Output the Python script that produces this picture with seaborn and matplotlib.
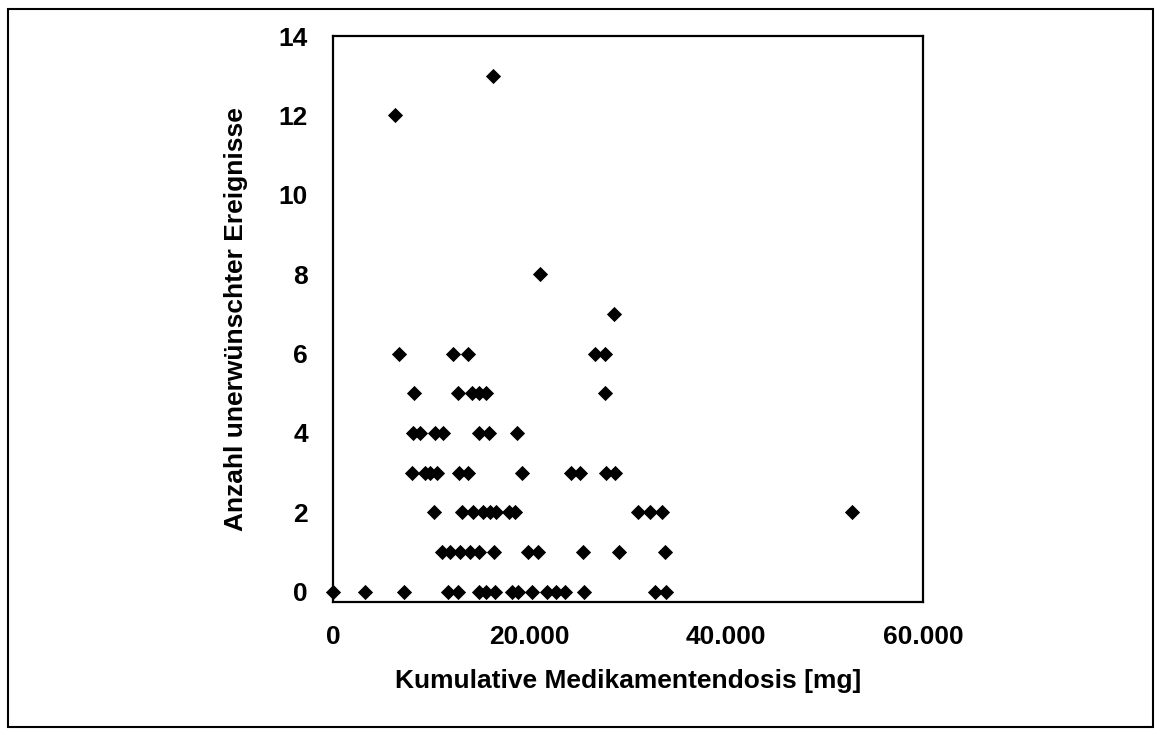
import matplotlib
matplotlib.use("Agg")
import matplotlib.pyplot as plt
import matplotlib.ticker as mticker
from matplotlib.patches import Rectangle
import seaborn as sns
import pandas as pd

# data (dose in mg, number of adverse events)
dose_0 = [0, 3300, 7200, 11700, 12700, 14800, 15600, 16500, 18200, 18800,
          20200, 21800, 22700, 23600, 25500, 32700, 33900]
dose_1 = [11100, 11900, 12900, 13900, 14900, 16400, 19800, 20900, 25400, 29100, 33800]
dose_2 = [10300, 13100, 14200, 15300, 16000, 16600, 17900, 18500, 31000, 32200, 33500, 52800]
dose_3 = [8000, 9350, 9900, 10600, 12800, 13750, 19200, 24200, 25100, 27800, 28660]
dose_4 = [8100, 8900, 10400, 11200, 14800, 15900, 18750]
dose_5 = [8200, 12700, 14100, 14900, 15600, 27700]
dose_6 = [6700, 12200, 13750, 26600, 27700]
dose_7 = [28600]
dose_8 = [21100]
dose_12 = [6300]
dose_13 = [16300]

groups = {0: dose_0, 1: dose_1, 2: dose_2, 3: dose_3, 4: dose_4, 5: dose_5,
          6: dose_6, 7: dose_7, 8: dose_8, 12: dose_12, 13: dose_13}

rows = []
for events, doses in groups.items():
    for d in doses:
        rows.append({"dose": d, "events": events})
df = pd.DataFrame(rows)

sns.set_style("white")
plt.rcParams['font.family'] = ['Liberation Sans', 'DejaVu Sans']
plt.rcParams['font.weight'] = 'bold'
plt.rcParams['text.color'] = 'black'
plt.rcParams['axes.labelcolor'] = 'black'
plt.rcParams['xtick.color'] = 'black'
plt.rcParams['ytick.color'] = 'black'

fig = plt.figure(figsize=(11.61, 7.35), dpi=100)
ax = fig.add_axes([0.2868, 0.1814, 0.5082, 0.7696])

sns.scatterplot(data=df, x="dose", y="events", marker="D", s=60,
                color="black", edgecolor="black", linewidth=0, ax=ax,
                clip_on=False, zorder=3)

ax.set_xlim(0, 60000)
ax.set_ylim(-0.25, 14)
ax.xaxis.set_major_locator(mticker.MultipleLocator(20000))
ax.xaxis.set_minor_locator(mticker.MultipleLocator(10000))
ax.yaxis.set_major_locator(mticker.MultipleLocator(2))
ax.xaxis.set_major_formatter(mticker.FuncFormatter(
    lambda v, p: "0" if v == 0 else f"{int(v):,}".replace(",", ".")))

for s in ax.spines.values():
    s.set_linewidth(1.6)
    s.set_color("black")

ax.tick_params(axis="both", which="both", direction="out", length=8,
               width=1.6, color="black", labelcolor="black", labelsize=19)
ax.tick_params(axis="x", pad=9)
ax.tick_params(axis="y", pad=10)

ax.set_xlabel("Kumulative Medikamentendosis [mg]", fontsize=19,
              fontweight="bold", labelpad=14)
ax.set_ylabel("Anzahl unerwünschter Ereignisse", fontsize=19,
              fontweight="bold", labelpad=22)

# frame around the whole picture
fig.patches.append(Rectangle((8 / 1161, 8 / 735), 1145 / 1161, 718 / 735,
                             transform=fig.transFigure, fill=False,
                             edgecolor="black", linewidth=1.5))

fig.savefig("out.png", dpi=100)
